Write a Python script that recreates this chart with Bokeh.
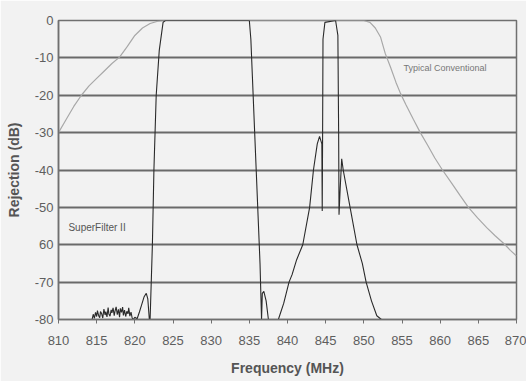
from bokeh.plotting import figure
from bokeh.models import Range1d, FixedTicker, Label
from bokeh.embed import file_html
from bokeh.resources import INLINE

# Typical conventional filter response (light gray curve)
conv_freq = [810, 811, 812, 813, 814, 815, 816, 817, 818, 819, 820, 821, 822, 823, 824,
             850, 850.8, 851.5, 852.2, 852.8, 853.5, 854.2, 854.8, 855.5, 856.5, 857.4,
             858.4, 859.3, 860.3, 861.5, 862.6, 863.7, 864.9, 866.1, 867.2, 868.3, 869.2, 870]
conv_db = [-30, -26.5, -23, -20, -17.5, -15.5, -13.5, -11.5, -9.8, -7, -4, -2, -0.8, -0.2, 0,
           0, -0.5, -2, -4.5, -8.8, -12.5, -16.5, -19.5, -22.5, -26.5, -30,
           -33.5, -36.8, -40, -43.5, -46.8, -50, -52.8, -55.4, -57.6, -59.6, -61.5, -63]

# SuperFilter II response (black curve)
sf_freq = [814.4, 814.55, 814.7, 814.85, 815.0, 815.1, 815.25, 815.4, 815.5, 815.65, 815.8,
           815.95, 816.1, 816.2, 816.35, 816.5, 816.6, 816.75, 816.9, 817.0, 817.15, 817.3,
           817.4, 817.55, 817.7, 817.85, 818.0, 818.1, 818.25, 818.4, 818.5, 818.65, 818.8,
           818.95, 819.1, 819.2, 819.35, 819.5, 819.65, 819.8, 820.0, 820.3, 820.6, 820.9,
           821.2, 821.5, 821.7, 821.9,
           822.0, 822.3, 822.5, 822.8, 823.2, 823.7, 824.0, 835.0, 835.2, 835.4, 835.7, 835.9,
           836.2, 836.4, 836.6, 836.7, 836.9, 837.2, 837.5, 838.8, 839.5, 840.2, 840.6, 841.2,
           842.0, 842.9, 843.4, 843.9, 844.2, 844.5, 844.55, 844.6, 844.65, 844.9, 846.3, 846.6,
           846.7, 846.75, 846.9, 847.1, 847.3, 848.2, 849.1, 849.8, 850.3, 851.0, 851.7, 852.3]
sf_db = [-80, -78.6, -79.7, -78.1, -79.2, -77.6, -78.9, -79.5, -77.9, -78.4, -79.6,
         -77.2, -78.8, -77.9, -79.3, -76.8, -78.5, -79.1, -77.4, -78.2, -76.9, -79.0,
         -77.8, -76.6, -78.7, -77.3, -79.4, -77.0, -78.1, -76.7, -78.9, -77.5, -79.2,
         -77.8, -78.5, -76.9, -79.1, -78.0, -79.6, -80, -79.4, -79.8, -78, -76,
         -74, -73, -74.5, -80,
         -80, -60, -40, -20, -8, -0.5, 0, 0, -5, -15, -30, -40,
         -55, -65, -80, -73, -72.5, -75, -80, -80, -75.7, -70, -68, -64,
         -60, -50, -40, -33, -31, -33, -51, -30, -5, -0.5, 0, -4,
         -30, -52, -45, -37, -40, -50, -60, -65, -70, -75, -79, -80]

x_ticks = [810, 815, 820, 825, 830, 835, 840, 845, 850, 855, 860, 865, 870]
y_ticks = [0, -10, -20, -30, -40, -50, -60, -70, -80]
y_tick_labels = ["0", "-10", "-20", "-30", "-40", "-50", "60", "-70", "-80"]

bg = "#f2f2f2"
font = "Liberation Sans"

p = figure(width=526, height=381, output_backend="svg", toolbar_location=None,
           x_range=Range1d(810, 870), y_range=Range1d(-80, 0),
           min_border_left=58, min_border_right=10, min_border_top=20, min_border_bottom=62,
           background_fill_color=bg, border_fill_color=bg,
           outline_line_color="#707070", outline_line_width=1.5)

p.line(conv_freq, conv_db, line_color="#a8a8a8", line_width=1.2)
p.line(sf_freq, sf_db, line_color="#2a2a2a", line_width=1.1)

p.xgrid.grid_line_color = None
p.ygrid.ticker = FixedTicker(ticks=y_ticks)
p.ygrid.grid_line_color = "#6a6a6a"
p.ygrid.grid_line_width = 2

p.xaxis.ticker = FixedTicker(ticks=x_ticks)
p.yaxis.ticker = FixedTicker(ticks=y_ticks)
p.yaxis.major_label_overrides = {t: l for t, l in zip(y_ticks, y_tick_labels)}

for ax in (p.xaxis[0], p.yaxis[0]):
    ax.axis_line_color = "#707070"
    ax.axis_line_width = 1.5
    ax.minor_tick_line_color = None
    ax.major_label_text_font = font
    ax.major_label_text_font_size = "13px"
    ax.major_label_text_color = "#5e5e5e"
    ax.axis_label_text_font = font
    ax.axis_label_text_font_size = "14px"
    ax.axis_label_text_font_style = "bold"
    ax.axis_label_text_color = "#555555"

p.xaxis.major_tick_line_color = "#707070"
p.xaxis.major_tick_in = 0
p.xaxis.major_tick_out = 4
p.xaxis.major_label_standoff = 12
p.xaxis.axis_label = "Frequency (MHz)"
p.xaxis.axis_label_standoff = 12

p.yaxis.major_tick_in = 0
p.yaxis.major_tick_out = 0
p.yaxis.major_label_standoff = 5
p.yaxis.axis_label = "Rejection (dB)"
p.yaxis.axis_label_standoff = 10

p.add_layout(Label(x=811.3, y=-55.3, text="SuperFilter II", text_font=font,
                   text_font_size="10px", text_color="#555555", text_baseline="middle"))
p.add_layout(Label(x=855.2, y=-12.8, text="Typical Conventional", text_font=font,
                   text_font_size="9px", text_color="#777777", text_baseline="middle"))

open("out.html", "w").write(file_html(p, INLINE))
